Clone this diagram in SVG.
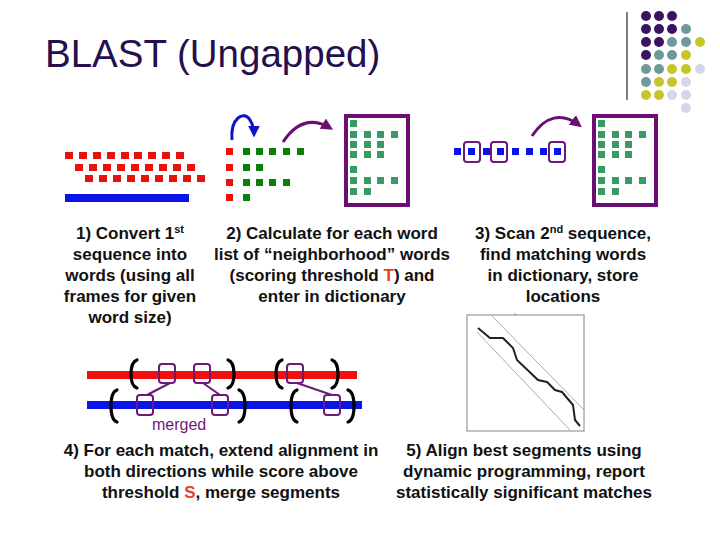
<svg xmlns="http://www.w3.org/2000/svg" width="720" height="540" viewBox="0 0 720 540">
<defs>
<style>
.t{font-family:"Liberation Sans",Arial,sans-serif;font-weight:bold;font-size:17px;fill:#111;text-anchor:middle}
.r{fill:#e8120c}
.g{fill:#0a7f0a}
.d{fill:#3a9a66}
.b{fill:#0a14e6}
.dict{fill:#fff;stroke:#6b0f73;stroke-width:4}
.sel{fill:none;stroke:#6b1a78;stroke-width:2}
.br{fill:none;stroke:#000;stroke-width:3.2;stroke-linecap:round}
.p{fill:#3b1460}.q{fill:#6f9a9c}.y{fill:#c6c62c}.l{fill:#d6d6e8}
</style>
<marker id="ab" viewBox="0 0 10 10" refX="7" refY="5" markerWidth="4" markerHeight="4" orient="auto"><path d="M0,0L10,5L0,10z" fill="#0a14cc"/></marker>
<marker id="ap" viewBox="0 0 10 10" refX="7" refY="5" markerWidth="4" markerHeight="4" orient="auto"><path d="M0,0L10,5L0,10z" fill="#6b0f73"/></marker>
</defs>
<rect width="720" height="540" fill="#fff"/>

<g id="logo">
<line x1="627" y1="12" x2="627" y2="100" stroke="#000" stroke-width="1"/>
<circle class="p" cx="646" cy="16" r="5"/><circle class="p" cx="659" cy="16" r="5"/><circle class="p" cx="672" cy="16" r="5"/>
<circle class="p" cx="646" cy="29" r="5"/><circle class="p" cx="659" cy="29" r="5"/><circle class="p" cx="672" cy="29" r="5"/><circle class="q" cx="686" cy="29" r="5"/>
<circle class="p" cx="646" cy="42" r="5"/><circle class="p" cx="659" cy="42" r="5"/><circle class="q" cx="672" cy="42" r="5"/><circle class="q" cx="686" cy="42" r="5"/><circle class="y" cx="700" cy="42" r="5"/>
<circle class="p" cx="646" cy="55" r="5"/><circle class="q" cx="659" cy="55" r="5"/><circle class="q" cx="672" cy="55" r="5"/><circle class="y" cx="686" cy="55" r="5"/>
<circle class="q" cx="646" cy="69" r="5"/><circle class="q" cx="659" cy="69" r="5"/><circle class="y" cx="672" cy="69" r="5"/><circle class="y" cx="686" cy="69" r="5"/><circle class="l" cx="700" cy="69" r="5"/>
<circle class="q" cx="646" cy="82" r="5"/><circle class="y" cx="659" cy="82" r="5"/><circle class="y" cx="672" cy="82" r="5"/><circle class="l" cx="686" cy="82" r="5"/>
<circle class="y" cx="646" cy="95" r="5"/><circle class="y" cx="659" cy="95" r="5"/><circle class="l" cx="672" cy="95" r="5"/><circle class="l" cx="686" cy="95" r="5"/>
<circle class="l" cx="686" cy="108" r="5"/>
</g>

<text x="45" y="67" font-family="Liberation Sans, Arial, sans-serif" font-size="38.5" fill="#24104f">BLAST (Ungapped)</text>

<g id="seq1">
<g class="r">
<rect x="65" y="152" width="8" height="7"/><rect x="79" y="152" width="8" height="7"/><rect x="93" y="152" width="8" height="7"/><rect x="107" y="152" width="8" height="7"/><rect x="121" y="152" width="8" height="7"/><rect x="134" y="152" width="8" height="7"/><rect x="148" y="152" width="8" height="7"/><rect x="162" y="152" width="8" height="7"/><rect x="176" y="152" width="8" height="7"/>
<rect x="75" y="164" width="8" height="7"/><rect x="89" y="164" width="8" height="7"/><rect x="103" y="164" width="8" height="7"/><rect x="117" y="164" width="8" height="7"/><rect x="131" y="164" width="8" height="7"/><rect x="145" y="164" width="8" height="7"/><rect x="159" y="164" width="8" height="7"/><rect x="173" y="164" width="8" height="7"/><rect x="187" y="164" width="8" height="7"/>
<rect x="85" y="175" width="8" height="7"/><rect x="99" y="175" width="8" height="7"/><rect x="113" y="175" width="8" height="7"/><rect x="127" y="175" width="8" height="7"/><rect x="141" y="175" width="8" height="7"/><rect x="155" y="175" width="8" height="7"/><rect x="169" y="175" width="8" height="7"/><rect x="183" y="175" width="8" height="7"/><rect x="197" y="175" width="8" height="7"/>
</g>
<rect class="b" x="65" y="194" width="124" height="8"/>
</g>

<g id="neighborhood">
<g class="r">
<rect x="226" y="148" width="7" height="7"/><rect x="226" y="164" width="7" height="7"/><rect x="226" y="179" width="7" height="7"/><rect x="226" y="194" width="7" height="7"/>
</g>
<g class="g">
<rect x="243" y="148" width="7" height="7"/><rect x="256" y="148" width="7" height="7"/><rect x="269" y="148" width="7" height="7"/><rect x="283" y="148" width="7" height="7"/><rect x="297" y="148" width="7" height="7"/>
<rect x="243" y="164" width="7" height="7"/><rect x="256" y="164" width="7" height="7"/>
<rect x="243" y="179" width="7" height="7"/><rect x="256" y="179" width="7" height="7"/><rect x="269" y="179" width="7" height="7"/><rect x="283" y="179" width="7" height="7"/>
<rect x="243" y="194" width="7" height="7"/>
</g>
</g>

<g id="dict1">
<rect class="dict" x="346" y="116" width="62" height="89"/>
<g class="d">
<rect x="350" y="120" width="7" height="7"/>
<rect x="350" y="131" width="7" height="7"/><rect x="364" y="131" width="7" height="7"/><rect x="377" y="131" width="7" height="7"/><rect x="391" y="131" width="7" height="7"/>
<rect x="350" y="141" width="7" height="7"/><rect x="364" y="141" width="7" height="7"/><rect x="377" y="141" width="7" height="7"/>
<rect x="350" y="151" width="7" height="7"/><rect x="364" y="151" width="7" height="7"/><rect x="377" y="151" width="7" height="7"/>
<rect x="350" y="166" width="7" height="7"/>
<rect x="350" y="177" width="7" height="7"/><rect x="364" y="177" width="7" height="7"/><rect x="377" y="177" width="7" height="7"/><rect x="391" y="177" width="7" height="7"/>
<rect x="350" y="188" width="7" height="7"/><rect x="364" y="188" width="7" height="7"/>
</g>
</g>

<g id="seq2">
<g class="b">
<rect x="454" y="148" width="7" height="7"/><rect x="468" y="148" width="7" height="7"/><rect x="483" y="148" width="7" height="7"/><rect x="497" y="148" width="7" height="7"/><rect x="512" y="148" width="7" height="7"/><rect x="526" y="148" width="7" height="7"/><rect x="540" y="148" width="7" height="7"/><rect x="554" y="148" width="7" height="7"/>
</g>
<rect class="sel" x="464" y="142" width="16" height="20" rx="3"/>
<rect class="sel" x="491" y="142" width="16" height="20" rx="3"/>
<rect class="sel" x="549" y="142" width="16" height="20" rx="3"/>
</g>

<g id="dict2">
<rect class="dict" x="594" y="116" width="62" height="89"/>
<g class="d">
<rect x="598" y="120" width="7" height="7"/>
<rect x="598" y="131" width="7" height="7"/><rect x="612" y="131" width="7" height="7"/><rect x="625" y="131" width="7" height="7"/><rect x="639" y="131" width="7" height="7"/>
<rect x="598" y="141" width="7" height="7"/><rect x="612" y="141" width="7" height="7"/><rect x="625" y="141" width="7" height="7"/>
<rect x="598" y="151" width="7" height="7"/><rect x="612" y="151" width="7" height="7"/><rect x="625" y="151" width="7" height="7"/>
<rect x="598" y="166" width="7" height="7"/>
<rect x="598" y="177" width="7" height="7"/><rect x="612" y="177" width="7" height="7"/><rect x="625" y="177" width="7" height="7"/><rect x="639" y="177" width="7" height="7"/>
<rect x="598" y="188" width="7" height="7"/><rect x="612" y="188" width="7" height="7"/>
</g>
</g>

<g id="connectors" fill="none">
<path d="M232,140 C230,118 244,110 250,120 C253,125 254,129 254,134" stroke="#0a14cc" stroke-width="3" marker-end="url(#ab)"/>
<path d="M283,142 C295,124 310,116 330,128" stroke="#6b0f73" stroke-width="3" marker-end="url(#ap)"/>
<path d="M532,136 C545,116 562,112 579,125" stroke="#6b0f73" stroke-width="3" marker-end="url(#ap)"/>
</g>

<g id="extend">
<rect x="87" y="371" width="270" height="8" fill="#f01010"/>
<rect x="87" y="401" width="275" height="8" fill="#0a14e6"/>
<path class="br" d="M137,360 Q131,362 131,374 Q131,386 137,388"/>
<path class="br" d="M228,360 Q234,362 234,374 Q234,386 228,388"/>
<path class="br" d="M282,360 Q276,362 276,374 Q276,386 282,388"/>
<path class="br" d="M332,360 Q338,362 338,374 Q338,386 332,388"/>
<path class="br" d="M117,390 Q111,392 111,406 Q111,420 117,422"/>
<path class="br" d="M239,390 Q245,392 245,406 Q245,420 239,422"/>
<path class="br" d="M297,390 Q291,392 291,406 Q291,420 297,422"/>
<path class="br" d="M348,390 Q354,392 354,406 Q354,420 348,422"/>
<g stroke="#6b1a78" stroke-width="2" fill="none">
<rect x="159" y="364" width="16" height="19" rx="3"/>
<rect x="194" y="364" width="16" height="19" rx="3"/>
<rect x="287" y="364" width="16" height="19" rx="3"/>
<rect x="137" y="395" width="16" height="20" rx="3"/>
<rect x="212" y="395" width="16" height="20" rx="3"/>
<rect x="324" y="395" width="16" height="20" rx="3"/>
<line x1="170" y1="383" x2="147" y2="395"/>
<line x1="203" y1="383" x2="220" y2="395"/>
<line x1="297" y1="383" x2="332" y2="395"/>
</g>
<text x="152" y="430" font-family="Liberation Sans, Arial, sans-serif" font-size="16" fill="#6b1a78">merged</text>
</g>

<g id="dotplot">
<rect x="467" y="315" width="117" height="116" fill="#fff" stroke="#999" stroke-width="1.2"/>
<line x1="491" y1="315" x2="584" y2="410" stroke="#aaa" stroke-width="1"/>
<line x1="477" y1="332" x2="570" y2="430" stroke="#aaa" stroke-width="1"/>
<line x1="515" y1="313" x2="515" y2="316" stroke="#999" stroke-width="1"/>
<polyline points="478,328 490,338 503,338 513,348 517,360 538,380 547,382 555,390 562,392 573,405 575,420 580,426" fill="none" stroke="#222" stroke-width="2"/>
</g>

<g id="labels">
<text class="t" x="130" y="239">1) Convert 1<tspan font-size="11" dy="-6">st</tspan></text>
<text class="t" x="130" y="260">sequence into</text>
<text class="t" x="130" y="281">words (using all</text>
<text class="t" x="130" y="302">frames for given</text>
<text class="t" x="130" y="323">word size)</text>

<text class="t" x="332" y="239">2) Calculate for each word</text>
<text class="t" x="332" y="260">list of “neighborhood” words</text>
<text class="t" x="332" y="281">(scoring threshold <tspan fill="#e8401c">T</tspan>) and</text>
<text class="t" x="332" y="302">enter in dictionary</text>

<text class="t" x="563" y="239">3) Scan 2<tspan font-size="11" dy="-6">nd</tspan><tspan dy="6"> sequence,</tspan></text>
<text class="t" x="563" y="260">find matching words</text>
<text class="t" x="563" y="281">in dictionary, store</text>
<text class="t" x="563" y="302">locations</text>

<text class="t" x="221" y="456">4) For each match, extend alignment in</text>
<text class="t" x="221" y="477">both directions while score above</text>
<text class="t" x="221" y="498">threshold <tspan fill="#e8401c">S</tspan>, merge segments</text>

<text class="t" x="524" y="456">5) Align best segments using</text>
<text class="t" x="524" y="477">dynamic programming, report</text>
<text class="t" x="524" y="498">statistically significant matches</text>
</g>
</svg>
